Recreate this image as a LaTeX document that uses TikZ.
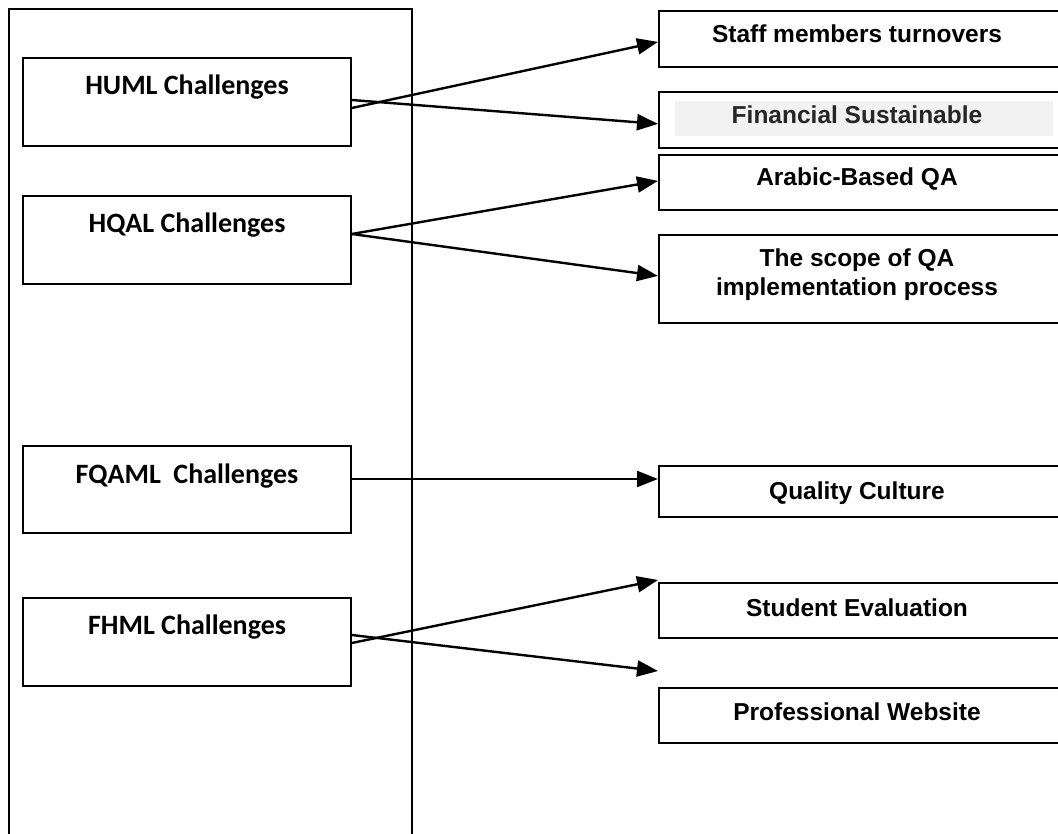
\documentclass[tikz,border=0pt]{standalone}
\usepackage{fontspec}
\setmainfont{Liberation Sans}
\newfontfamily\calibfont{Carlito}
\usetikzlibrary{arrows.meta}
\definecolor{hlgray}{HTML}{F2F2F2}
\definecolor{inkgray}{HTML}{262626}

\begin{document}
\begin{tikzpicture}[x=1pt,y=-1pt,
  leftbox/.style={draw, line width=1.6pt, minimum width=328pt, minimum height=88pt, inner sep=0pt},
  rightbox/.style={draw, line width=1.8pt, minimum width=420pt, inner sep=0pt, anchor=north west},
  lefttext/.style={anchor=base, inner sep=0pt, font=\calibfont\fontsize{28pt}{32pt}\selectfont\bfseries},
  righttext/.style={anchor=base, inner sep=0pt, align=center, font=\fontsize{24.5pt}{29pt}\selectfont\bfseries},
  link/.style={line width=2.4pt, -{Triangle[length=21pt,width=16pt]}}
]
\useasboundingbox (0,0) rectangle (1058,834);
\clip (0,0) rectangle (1058,834);

% outer frame holding the challenge groups
\draw[line width=1.4pt] (9,840) -- (9,9) -- (412,9) -- (412,840);

% challenge groups
\node[leftbox] (huml)  at (187,102) {};
\node[leftbox] (hqal)  at (187,240) {};
\node[leftbox, minimum height=87pt] (fqaml) at (187,489.5) {};
\node[leftbox] (fhml)  at (187,642) {};

\node[lefttext] at (187,95)  {HUML Challenges};
\node[lefttext] at (187,233) {HQAL Challenges};
\node[lefttext] at (187,483) {FQAML\ \ Challenges};
\node[lefttext] at (187,634) {FHML Challenges};

% individual challenges
\node[rightbox, minimum height=56pt] (staff) at (658,10)  {};
\node[rightbox, minimum height=56pt] (fin)   at (658,91)  {};
\node[rightbox, minimum height=55pt] (arab)  at (658,154) {};
\node[rightbox, minimum height=88pt] (scope) at (658,234) {};
\node[rightbox, minimum height=51pt] (qual)  at (658,465) {};
\node[rightbox, minimum height=55pt] (stud)  at (658,582) {};
\node[rightbox, minimum height=55pt] (prof)  at (658,687) {};

\fill[hlgray] (675,101) rectangle (1053,136);

\node[righttext] at (857,43)  {Staff members turnovers};
\node[righttext, text=inkgray] at (857,124) {Financial Sustainable};
\node[righttext] at (857,186) {Arabic-Based QA};
\node[righttext] at (857,296) {The scope of QA\\implementation process};
\node[righttext] at (857,499) {Quality Culture};
\node[righttext] at (857,616) {Student Evaluation};
\node[righttext] at (857,720) {Professional Website};

% links
\draw[link] ([yshift=-6pt]huml.east) -- ([yshift=-3pt]staff.west);
\draw[link] ([yshift=2pt]huml.east)  -- ([yshift=-4pt]fin.west);
\draw[link] ([yshift=6pt]hqal.east)  -- ([yshift=1.5pt]arab.west);
\draw[link] ([yshift=6pt]hqal.east)  -- ([yshift=3pt]scope.west);
\draw[link] ([yshift=10.5pt]fqaml.east) coordinate (fqstart) -- (fqstart -| qual.west);
\draw[link] ([yshift=-1pt]fhml.east) -- ([yshift=2pt]stud.north west);
\draw[link] ([yshift=7pt]fhml.east)  -- ([yshift=16pt]prof.north west);
\end{tikzpicture}
\end{document}
